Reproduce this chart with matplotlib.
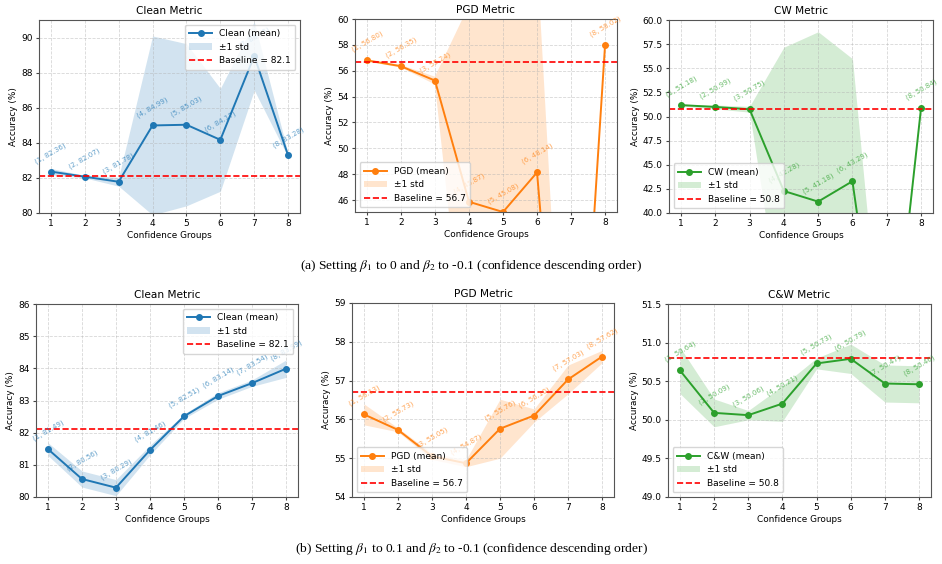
import matplotlib.pyplot as plt

grupos = [1, 2, 3, 4, 5, 6, 7, 8]

# (a) beta1 = 0, beta2 = -0.1
clean_a_media = [82.36, 82.07, 81.78, 84.99, 85.03, 84.17, 88.95, 83.28]
clean_a_std = [0.18, 0.07, 0.25, 5.10, 4.62, 2.93, 1.95, 0.10]
pgd_a_media = [56.80, 56.35, 55.24, 45.87, 45.08, 48.14, 17.00, 58.02]
pgd_a_std = [0.10, 0.10, 0.30, 15.20, 16.00, 16.60, 0.70, 0.10]
cw_a_media = [51.18, 50.99, 50.75, 42.28, 41.18, 43.29, 18.50, 50.84]
cw_a_std = [0.10, 0.20, 0.30, 14.90, 17.60, 12.70, 0.40, 0.10]

# (b) beta1 = 0.1, beta2 = -0.1
clean_b_media = [81.49, 80.56, 80.29, 81.46, 82.51, 83.14, 83.54, 83.99]
clean_b_std = [0.20, 0.25, 0.25, 0.15, 0.07, 0.10, 0.10, 0.27]
pgd_b_media = [56.13, 55.73, 55.05, 54.87, 55.76, 56.10, 57.03, 57.62]
pgd_b_std = [0.27, 0.05, 0.08, 0.09, 0.76, 0.17, 0.37, 0.16]
cw_b_media = [50.64, 50.09, 50.06, 50.21, 50.73, 50.79, 50.47, 50.46]
cw_b_std = [0.30, 0.18, 0.06, 0.23, 0.07, 0.19, 0.24, 0.24]

baselines = {"Clean": 82.1, "PGD": 56.7, "CW": 50.8, "C&W": 50.8}

azul = "#1f77b4"
naranja = "#ff7f0e"
verde = "#2ca02c"

W, H = 942, 564
fig = plt.figure(figsize=(W / 100, H / 100), dpi=100)
plt.rcParams["mathtext.fontset"] = "stix"


def panel(pos, nombre, media, std, color, ylim, loc):
    x0, y0, x1, y1 = pos
    ax = fig.add_axes([x0 / W, 1 - y1 / H, (x1 - x0) / W, (y1 - y0) / H])
    inf = [m - s for m, s in zip(media, std)]
    sup = [m + s for m, s in zip(media, std)]
    ax.plot(grupos, media, "-o", color=color, lw=1.4, ms=4, label=f"{nombre} (mean)")
    ax.fill_between(grupos, inf, sup, color=color, alpha=0.2, lw=0, label="±1 std")
    ax.axhline(baselines[nombre], color="red", ls="--", lw=1.2,
               label=f"Baseline = {baselines[nombre]}")
    # etiquetas de cada punto
    for g, m in zip(grupos, media):
        ax.annotate(f"({g}, {m:.2f})", (g, m), xytext=(0, 5), textcoords="offset points",
                    ha="center", va="bottom", rotation=30, fontsize=5, color=color, alpha=0.7)
    ax.set_ylim(*ylim)
    ax.set_xticks(grupos)
    ax.set_title(f"{nombre} Metric", fontsize=7.6, pad=4)
    ax.set_xlabel("Confidence Groups", fontsize=6.4, labelpad=2)
    ax.set_ylabel("Accuracy (%)", fontsize=6.4, labelpad=2)
    ax.tick_params(labelsize=6.5, length=2.5, pad=2, color="#444444")
    ax.grid(True, ls="--", alpha=0.5, lw=0.6)
    for sp in ax.spines.values():
        sp.set_color("#555555")
    ax.legend(loc=loc, fontsize=6.5, handlelength=2.5, borderpad=0.5, labelspacing=0.5)
    return ax


panel((39, 20, 300, 213), "Clean", clean_a_media, clean_a_std, azul, (80, 91), "upper right")
panel((355, 19, 617, 212), "PGD", pgd_a_media, pgd_a_std, naranja, (45.08, 60), "lower left")
panel((669, 20, 933, 213), "CW", cw_a_media, cw_a_std, verde, (40, 60), "lower left")

panel((36, 304, 298, 497), "Clean", clean_b_media, clean_b_std, azul, (80, 86), "upper right")
panel((352, 303, 614, 497), "PGD", pgd_b_media, pgd_b_std, naranja, (54, 59), "lower left")
panel((668, 304, 931, 497), "C&W", cw_b_media, cw_b_std, verde, (49, 51.5), "lower left")

fig.text(0.5, 1 - 266 / H, r"(a) Setting $\beta_1$ to 0 and $\beta_2$ to -0.1 (confidence descending order)",
         ha="center", va="center", fontsize=9.7, family="Liberation Serif")
fig.text(0.5, 1 - 549 / H, r"(b) Setting $\beta_1$ to 0.1 and $\beta_2$ to -0.1 (confidence descending order)",
         ha="center", va="center", fontsize=9.7, family="Liberation Serif")

fig.savefig("out.png", dpi=100, facecolor="white")
